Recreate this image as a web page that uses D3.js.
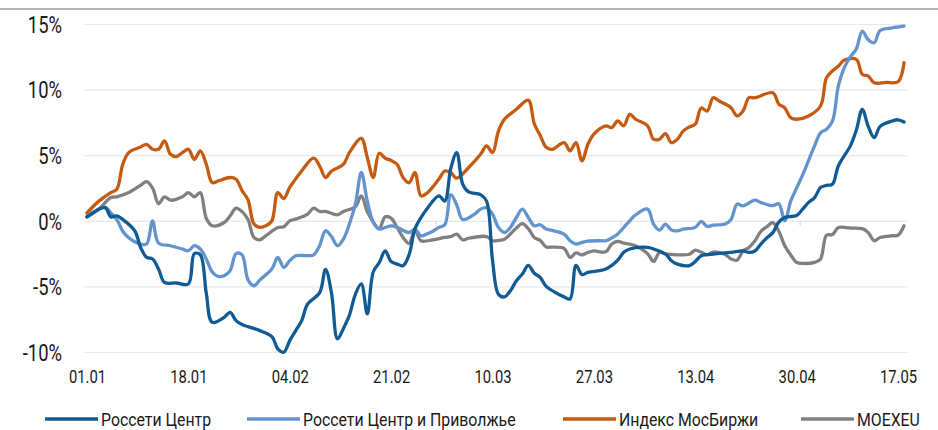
<!DOCTYPE html>
<html><head><meta charset="utf-8">
<script src="https://cdn.jsdelivr.net/npm/d3@7"></script>
<style>
html,body{margin:0;padding:0;background:#fff;}
svg{display:block;}
text{font-family:"Roboto","Liberation Sans",sans-serif;fill:#1a1a1a;}
</style></head>
<body>
<svg id="chart" width="938" height="430"></svg>
<script>
// ---------- data ----------
const seriesNames = ["Россети Центр", "Россети Центр и Приволжье", "Индекс МосБиржи", "MOEXEU"];
const seriesColors = ["#115b94", "#6394cd", "#c55a11", "#808080"];

const xTickLabels = ["01.01","18.01","04.02","21.02","10.03","27.03","13.04","30.04","17.05"];
const yTickValues = [-10, -5, 0, 5, 10, 15];
const monthStarts = ["01.02","01.03","01.04","01.05"];

// Россети Центр
const rcDates = ["01.01","04.01","05.01","06.01","07.01","09.01","10.01","11.01","12.01","13.01","14.01","16.01","18.01","19.01","20.01","21.01","22.01","24.01","25.01","26.01","27.01","28.01","30.01","01.02","02.02","03.02","04.02","05.02","06.02","07.02","09.02","10.02","11.02","12.02","13.02","14.02","15.02","16.02","17.02","18.02","19.02","20.02","21.02","22.02","23.02","24.02","25.02","26.02","27.02","01.03","02.03","03.03","04.03","05.03","06.03","08.03","09.03","10.03","11.03","12.03","13.03","14.03","15.03","16.03","17.03","18.03","19.03","21.03","22.03","23.03","24.03","25.03","26.03","28.03","29.03","30.03","31.03","01.04","02.04","05.04","06.04","08.04","09.04","10.04","12.04","13.04","14.04","16.04","19.04","21.04","22.04","23.04","24.04","25.04","26.04","27.04","28.04","30.04","01.05","02.05","03.05","04.05","05.05","06.05","07.05","09.05","10.05","11.05","12.05","13.05","14.05","16.05","17.05","18.05"];
const rcValues = [0.3,1.0,0.3,0.38,0.1,-0.76,-2.03,-2.79,-2.91,-3.68,-4.69,-4.74,-4.82,-2.5,-2.6,-5.5,-7.74,-7.36,-6.98,-7.61,-7.91,-8.07,-8.37,-8.83,-9.76,-10.02,-9.13,-8.37,-7.61,-6.34,-5.5,-3.7,-5.5,-9.0,-8.2,-7.2,-5.6,-4.8,-7.1,-3.9,-3.2,-2.3,-3.1,-3.3,-3.42,-2.6,-0.6,0.25,0.9,1.9,1.5,4.0,5.2,2.8,2.2,2.0,1.5,-3.0,-5.6,-5.8,-5.33,-4.57,-4.06,-3.4,-4.0,-4.31,-5.0,-5.58,-5.8,-5.96,-3.4,-4.1,-3.93,-3.8,-3.68,-3.4,-3.0,-2.4,-2.15,-2.03,-2.15,-2.53,-3.04,-3.3,-3.42,-3.1,-2.66,-2.53,-2.41,-2.3,-2.41,-2.3,-1.77,-1.3,-0.9,-0.1,0.25,0.4,0.89,1.4,1.77,2.53,2.7,2.79,4.2,5.71,6.9,8.5,7.2,6.34,7.2,7.61,7.7,7.53];

// Россети Центр и Приволжье
const rcpDates = ["01.01","04.01","05.01","06.01","07.01","08.01","09.01","10.01","11.01","12.01","13.01","15.01","17.01","18.01","19.01","20.01","21.01","22.01","23.01","24.01","25.01","26.01","27.01","28.01","29.01","30.01","01.02","02.02","03.02","04.02","05.02","07.02","08.02","09.02","10.02","11.02","12.02","13.02","14.02","15.02","16.02","17.02","18.02","19.02","20.02","21.02","22.02","24.02","25.02","26.02","27.02","28.02","01.03","02.03","03.03","04.03","05.03","07.03","08.03","09.03","10.03","11.03","12.03","13.03","14.03","15.03","16.03","17.03","18.03","19.03","20.03","22.03","23.03","24.03","25.03","26.03","28.03","29.03","30.03","31.03","01.04","02.04","03.04","05.04","06.04","07.04","08.04","09.04","10.04","11.04","13.04","14.04","15.04","16.04","18.04","19.04","20.04","21.04","23.04","24.04","26.04","27.04","28.04","29.04","30.04","01.05","02.05","03.05","04.05","05.05","06.05","07.05","08.05","09.05","10.05","11.05","12.05","13.05","14.05","16.05","18.05"];
const rcpValues = [0.3,1.05,0.6,0.1,-0.8,-1.3,-1.6,-1.77,-1.77,0.0,-1.7,-1.9,-2.15,-2.28,-1.9,-2.15,-2.91,-3.9,-4.24,-4.19,-3.8,-2.5,-2.6,-4.5,-4.95,-4.5,-3.68,-2.79,-3.55,-3.04,-2.66,-2.66,-2.6,-1.9,-0.76,-1.2,-1.9,-1.39,-0.25,1.27,3.68,1.52,-0.1,-0.63,-0.51,-0.38,-0.5,-0.89,-0.63,-1.14,-1.01,-0.8,-0.5,-0.3,2.0,1.2,0.1,0.51,0.89,1.0,0.51,-0.51,-0.89,-0.51,0.25,0.89,0.25,-0.38,-0.3,-0.63,-0.73,-1.01,-1.52,-1.77,-1.65,-1.55,-1.52,-1.52,-1.3,-1.0,-0.51,0,0.45,0.89,-0.25,-0.71,-0.25,-0.7,-0.76,-0.63,-0.5,-0.05,-0.43,-0.33,-0.25,0.1,1.27,1.14,1.57,1.39,1.15,1.3,0,1.5,2.5,3.5,4.6,5.71,6.7,6.98,7.6,10.3,11.7,12.5,13.1,14.46,13.8,13.57,14.5,14.71,14.84];

// Индекс МосБиржи
const imoexDates = ["01.01","03.01","05.01","06.01","07.01","08.01","10.01","11.01","12.01","13.01","14.01","15.01","16.01","17.01","18.01","19.01","20.01","21.01","22.01","23.01","25.01","26.01","27.01","28.01","29.01","30.01","31.01","01.02","02.02","03.02","04.02","06.02","08.02","09.02","10.02","11.02","13.02","14.02","16.02","17.02","18.02","19.02","20.02","21.02","22.02","23.02","24.02","25.02","26.02","27.02","01.03","02.03","03.03","04.03","06.03","08.03","09.03","10.03","11.03","12.03","14.03","16.03","17.03","18.03","19.03","20.03","22.03","23.03","24.03","25.03","26.03","27.03","29.03","30.03","31.03","01.04","02.04","03.04","05.04","06.04","07.04","08.04","09.04","10.04","11.04","12.04","13.04","14.04","15.04","16.04","17.04","19.04","20.04","21.04","22.04","23.04","26.04","27.04","28.04","29.04","30.04","02.05","04.05","05.05","06.05","07.05","08.05","10.05","11.05","12.05","13.05","15.05","17.05","18.05"];
const imoexValues = [0.6,1.5,2.15,2.4,4.3,5.2,5.63,5.83,5.45,5.45,6.09,5.07,4.9,5.2,5.45,4.69,5.33,4.31,2.91,3.04,3.3,3.17,2.3,1.6,-0.25,-0.5,-0.38,0,2.15,1.7,2.54,3.8,4.77,4.19,3.3,3.8,4.31,5.2,6.29,4.82,3.3,5.15,4.77,4.6,4.3,3.3,2.9,3.68,1.9,2.1,3.17,3.8,3.68,3.25,4.06,5.07,5.71,5.2,6.85,7.74,8.5,9.2,7.4,6.5,5.6,5.45,5.96,5.33,5.96,4.57,5.83,6.6,7.23,7.1,7.61,7.23,8.12,7.74,7.23,6.22,6.22,6.64,5.96,6.22,6.85,7.15,7.36,8.6,8.37,9.38,9.13,8.62,7.99,8.37,9.38,9.38,9.76,8.9,8.6,7.86,7.74,7.99,8.75,10.9,11.42,11.8,12.25,12.3,11.16,11.03,10.52,10.55,10.6,12.05];

// MOEXEU
const moexeuDates = ["01.01","03.01","05.01","06.01","08.01","10.01","11.01","12.01","13.01","14.01","15.01","17.01","18.01","19.01","20.01","21.01","22.01","24.01","25.01","26.01","27.01","28.01","29.01","30.01","31.01","02.02","03.02","04.02","05.02","07.02","08.02","09.02","10.02","12.02","13.02","15.02","16.02","17.02","18.02","19.02","20.02","21.02","22.02","23.02","24.02","25.02","26.02","28.02","02.03","03.03","04.03","05.03","06.03","09.03","10.03","11.03","12.03","13.03","14.03","15.03","16.03","17.03","18.03","19.03","20.03","22.03","23.03","24.03","25.03","26.03","27.03","29.03","30.03","31.03","01.04","03.04","05.04","06.04","07.04","08.04","10.04","12.04","13.04","14.04","15.04","16.04","18.04","19.04","20.04","21.04","22.04","23.04","24.04","25.04","26.04","27.04","28.04","29.04","30.04","01.05","03.05","04.05","05.05","06.05","07.05","09.05","11.05","12.05","13.05","14.05","16.05","17.05","18.05"];
const moexeuValues = [0.3,0.89,1.77,1.83,2.15,2.71,2.99,2.5,1.3,1.83,1.57,1.83,2.15,1.83,2.15,0.2,-0.38,-0.13,0.38,0.97,0.7,0.1,-1.27,-1.45,-1.14,-0.51,-0.45,0,0.13,0.51,0.97,0.71,0.71,0.46,0.71,1.07,1.9,0.7,-0.1,-0.59,0.3,0.2,-0.51,-1.27,-1.73,-0.7,-1.52,-1.45,-1.27,-1.2,-1.01,-1.45,-1.33,-1.2,-1.52,-1.5,-1.4,-1.0,-0.55,-0.22,-0.6,-1.27,-1.5,-2.0,-2.0,-2.1,-2.79,-2.45,-2.6,-2.41,-2.3,-2.36,-1.77,-1.57,-1.7,-1.9,-2.5,-3.1,-2.41,-2.53,-2.59,-2.55,-2.23,-2.4,-2.6,-2.38,-2.56,-2.91,-3.0,-2.3,-2.03,-1.52,-0.8,-0.45,-0.13,-0.8,-1.9,-2.6,-3.17,-3.25,-3.17,-2.91,-1.1,-1.05,-0.51,-0.55,-0.6,-0.9,-1.52,-1.27,-1.14,-1.1,-0.38];

const seriesDates = [rcDates, rcpDates, imoexDates, moexeuDates];
const seriesValues = [rcValues, rcpValues, imoexValues, moexeuValues];

// ---------- layout ----------
const W = 938, H = 430;
const plot = {left: 84, right: 907, top: 24, bottom: 352};
const parse = s => { const [d, m] = s.split(".").map(Number); return new Date(Date.UTC(2023, m - 1, d, 12)); };
const dayStart = s => { const [d, m] = s.split(".").map(Number); return new Date(Date.UTC(2023, m - 1, d, 0)); };

const x = d3.scaleUtc()
  .domain([new Date(Date.UTC(2023, 0, 1)), new Date(Date.UTC(2023, 4, 19))])
  .range([plot.left, plot.right]);
const y = d3.scaleLinear().domain([-10, 15]).range([plot.bottom, plot.top]);

const svg = d3.select("#chart");

// top rule
svg.append("line").attr("x1", 0).attr("x2", W).attr("y1", 9).attr("y2", 9)
  .attr("stroke", "#b3b3b3").attr("stroke-width", 2);

// gridlines + y labels
const yAxis = d3.axisLeft(y).tickValues(yTickValues).tickSize(-(plot.right - plot.left))
  .tickFormat(d => d + "%");
const gy = svg.append("g").attr("transform", `translate(${plot.left},0)`).call(yAxis);
gy.select(".domain").remove();
gy.selectAll(".tick line").attr("stroke", "#e8e8e8").attr("stroke-width", 1.2);
gy.selectAll(".tick text")
  .attr("x", 0).attr("dy", "0.36em")
  .attr("transform", `translate(${62 - plot.left},0) scale(0.8,1)`)
  .style("font-size", "23px").attr("fill", "#1a1a1a")
  .style("font-family", '"Roboto", sans-serif');

// month ticks on the zero line
const gm = svg.append("g").attr("transform", `translate(0,${y(0)})`)
  .call(d3.axisBottom(x).tickValues(monthStarts.map(dayStart)).tickSize(5).tickFormat(""));
gm.select(".domain").remove();
gm.selectAll(".tick line").attr("stroke", "#d9d9d9").attr("stroke-width", 1.2);

// x labels
const gx = svg.append("g").attr("transform", `translate(0,${plot.bottom})`)
  .call(d3.axisBottom(x).tickValues(xTickLabels.map(parse)).tickSize(0)
    .tickFormat((d, i) => xTickLabels[i]));
gx.select(".domain").remove();
gx.selectAll(".tick text").attr("y", 0).attr("dy", 0)
  .attr("transform", "translate(0,31) scale(0.8,1)")
  .style("font-size", "18.5px").attr("fill", "#1a1a1a")
  .style("font-family", '"Roboto", sans-serif');

// lines
const line = d3.line().x(d => x(d[0])).y(d => y(d[1])).curve(d3.curveCatmullRom.alpha(0.5));
const order = [3, 2, 1, 0];
order.forEach(i => {
  const pts = seriesDates[i].map((s, k) => [parse(s), seriesValues[i][k]]);
  svg.append("path").datum(pts).attr("d", line)
    .attr("fill", "none").attr("stroke", seriesColors[i])
    .attr("stroke-width", 3.3).attr("stroke-linejoin", "round").attr("stroke-linecap", "round");
});

// legend
const legendX = [45, 247, 563, 801];
const lg = svg.append("g");
seriesNames.forEach((name, i) => {
  lg.append("line").attr("x1", legendX[i]).attr("x2", legendX[i] + 53)
    .attr("y1", 419).attr("y2", 419).attr("stroke", seriesColors[i]).attr("stroke-width", 3.5);
  lg.append("text").attr("x", 0).attr("y", 0)
    .attr("transform", `translate(${legendX[i] + 56},426) scale(0.88,1)`)
    .style("font-size", "18px").text(name);
});
</script>
</body></html>
